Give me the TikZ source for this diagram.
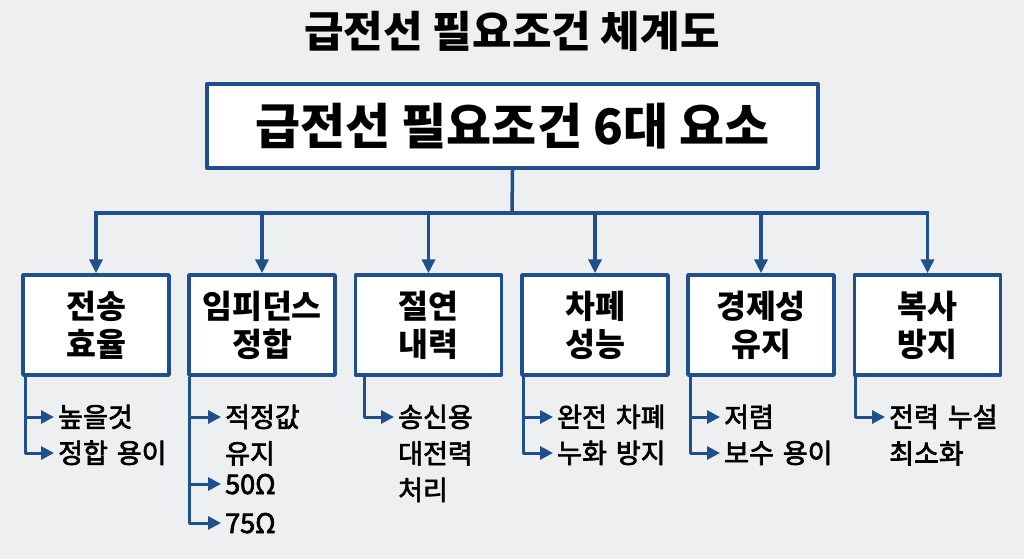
\documentclass[tikz,border=0pt]{standalone}
\usepackage{fontspec}
\setmainfont{Noto Sans CJK KR}
\newfontfamily\itemfont[FakeBold=2.5]{Noto Sans CJK KR}
\usepackage{tikz}
\usetikzlibrary{arrows.meta}
\definecolor{linkblue}{HTML}{1F4F8C}
\definecolor{paper}{HTML}{EEEFF1}

\begin{document}
\begin{tikzpicture}[x=1pt, y=-1pt, line join=round,
  catbox/.style={draw=linkblue, line width=3.5pt, fill=white, minimum width=146pt,
    minimum height=100pt, align=center, font=\bfseries\fontsize{32.5}{38}\selectfont},
  item/.style={anchor=base west, inner sep=0pt, text width=130pt, align=left,
    font=\itemfont\fontsize{27}{36.5}\selectfont},
  trunk/.style={linkblue, line width=3.5pt},
  drop/.style={trunk, -{Triangle[length=14pt, width=13pt]}},
  twig/.style={linkblue, line width=3pt, shorten >=4pt, -{Triangle[length=13pt, width=13pt]}}]
  \useasboundingbox[fill=paper] (0,0) rectangle (1024,559);
  % heading and root box
  \node[font=\bfseries\fontsize{43}{50}\selectfont] (title) at (512,31) {급전선 필요조건 체계도};
  \node[draw=linkblue, line width=4pt, fill=white, minimum width=611pt, minimum height=84pt,
    font=\bfseries\fontsize{49}{56}\selectfont] (root) at (512.5,126) {급전선 필요조건 6대 요소};
  % the six requirements
  \node[catbox] (c1) at (96,325)    {전송\\효율};
  \node[catbox] (c2) at (262,325)   {임피던스\\정합};
  \node[catbox] (c3) at (428.5,325) {절연\\내력};
  \node[catbox] (c4) at (595,325)   {차폐\\성능};
  \node[catbox] (c5) at (761,325)   {경제성\\유지};
  \node[catbox] (c6) at (927.5,325) {복사\\방지};
  % tree from the root
  \coordinate (bar) at (512,213);
  \draw[trunk] (root.south) -- (bar);
  \draw[trunk, line cap=rect] (c1.north |- bar) -- (c6.north |- bar);
  \foreach \i in {1,...,6}
    \draw[drop] (c\i.north |- bar) -- (c\i.north);
  % details under each box
  \node[item] (i11) at (58,427)  {높을것};
  \node[item] (i12) at (58,463)  {정합 용이};
  \node[item] (i21) at (225,427) {적정값\\유지};
  \node[item] (i22) at (225,494) {50Ω};
  \node[item] (i23) at (225,533) {75Ω};
  \node[item] (i31) at (398,427) {송신용\\대전력\\처리};
  \node[item] (i41) at (557,427) {완전 차폐};
  \node[item] (i42) at (557,463) {누화 방지};
  \node[item] (i51) at (724,427) {저렴};
  \node[item] (i52) at (724,463) {보수 용이};
  \node[item] (i61) at (889,427) {전력 누설\\최소화};
  \foreach \i/\dx in {1/4,2/2,3/11,4/3,5/4,6/3}
    \coordinate (b\i) at ([xshift=\dx pt]c\i.south west);
  \draw[twig] (b1) |- ([yshift=10pt]i12.base west);
  \draw[twig] (b1 |- i11.base) ++(0,-10) -- ([yshift=10pt]i11.base west);
  \draw[twig] (b2) |- ([yshift=10pt]i23.base west);
  \draw[twig] (b2 |- i21.base) ++(0,-10) -- ([yshift=10pt]i21.base west);
  \draw[twig] (b2 |- i22.base) ++(0,-10) -- ([yshift=10pt]i22.base west);
  \draw[twig] (b3) |- ([yshift=10pt]i31.base west);
  \draw[twig] (b4) |- ([yshift=10pt]i42.base west);
  \draw[twig] (b4 |- i41.base) ++(0,-10) -- ([yshift=10pt]i41.base west);
  \draw[twig] (b5) |- ([yshift=10pt]i52.base west);
  \draw[twig] (b5 |- i51.base) ++(0,-10) -- ([yshift=10pt]i51.base west);
  \draw[twig] (b6) |- ([yshift=10pt]i61.base west);
\end{tikzpicture}
\end{document}
